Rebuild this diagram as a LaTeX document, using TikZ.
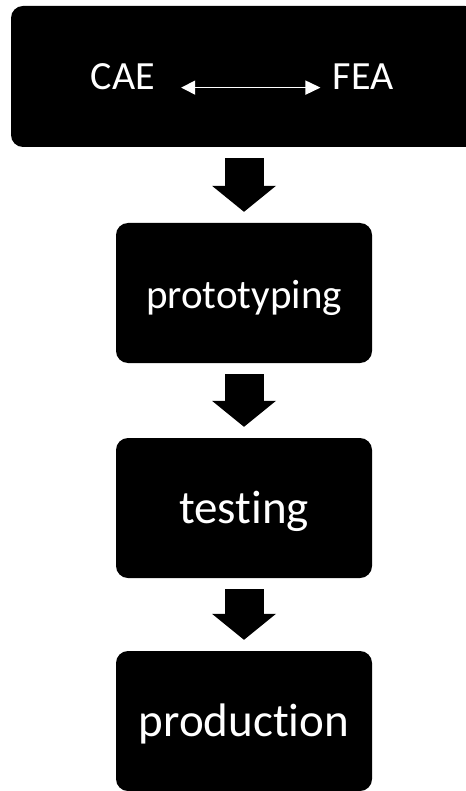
\documentclass[tikz,border=0pt]{standalone}
\usepackage{fontspec}
\setmainfont{Carlito}[Ligatures=NoCommon]
\usetikzlibrary{arrows.meta}

\begin{document}
\begin{tikzpicture}[x=1pt,y=-1pt,
  stage/.style={fill=black,rounded corners=12pt,minimum width=256pt,minimum height=140pt,
    text=white,font=\fontsize{47}{50}\selectfont,text height=30pt,text depth=0pt},
  term/.style={text=white,inner sep=0pt,font=\fontsize{40}{44}\selectfont},
  flow/.style={line width=39pt,-{Triangle[length=26pt,width=64pt,line width=0pt]},
    shorten <=11pt,shorten >=11pt}]
   \useasboundingbox (0,0) rectangle (465,791);
   \node[stage,minimum width=466pt,minimum height=141pt] (design) at (244,76.5) {};
   \node[term,anchor=base] (cae) at (123,90) {CAE};
   \node[term,anchor=base] (fea) at (363,90) {FEA};
   \draw[white,line width=1.4pt,{Triangle[length=14pt,width=14pt]}-{Triangle[length=15pt,width=14pt]},
     shorten <=26pt,shorten >=12pt] (cae.mid east) -- (fea.mid west);
   \node[stage,font=\fontsize{41}{44}\selectfont] (proto) at (244,293) {prototyping};
   \node[stage] (test) at (244,508) {testing};
   \node[stage] (prod) at (244,721) {production};
   \draw[flow] (design) -- (proto);
   \draw[flow] (proto) -- (test);
   \draw[flow] (test) -- (prod);
\end{tikzpicture}
\end{document}
